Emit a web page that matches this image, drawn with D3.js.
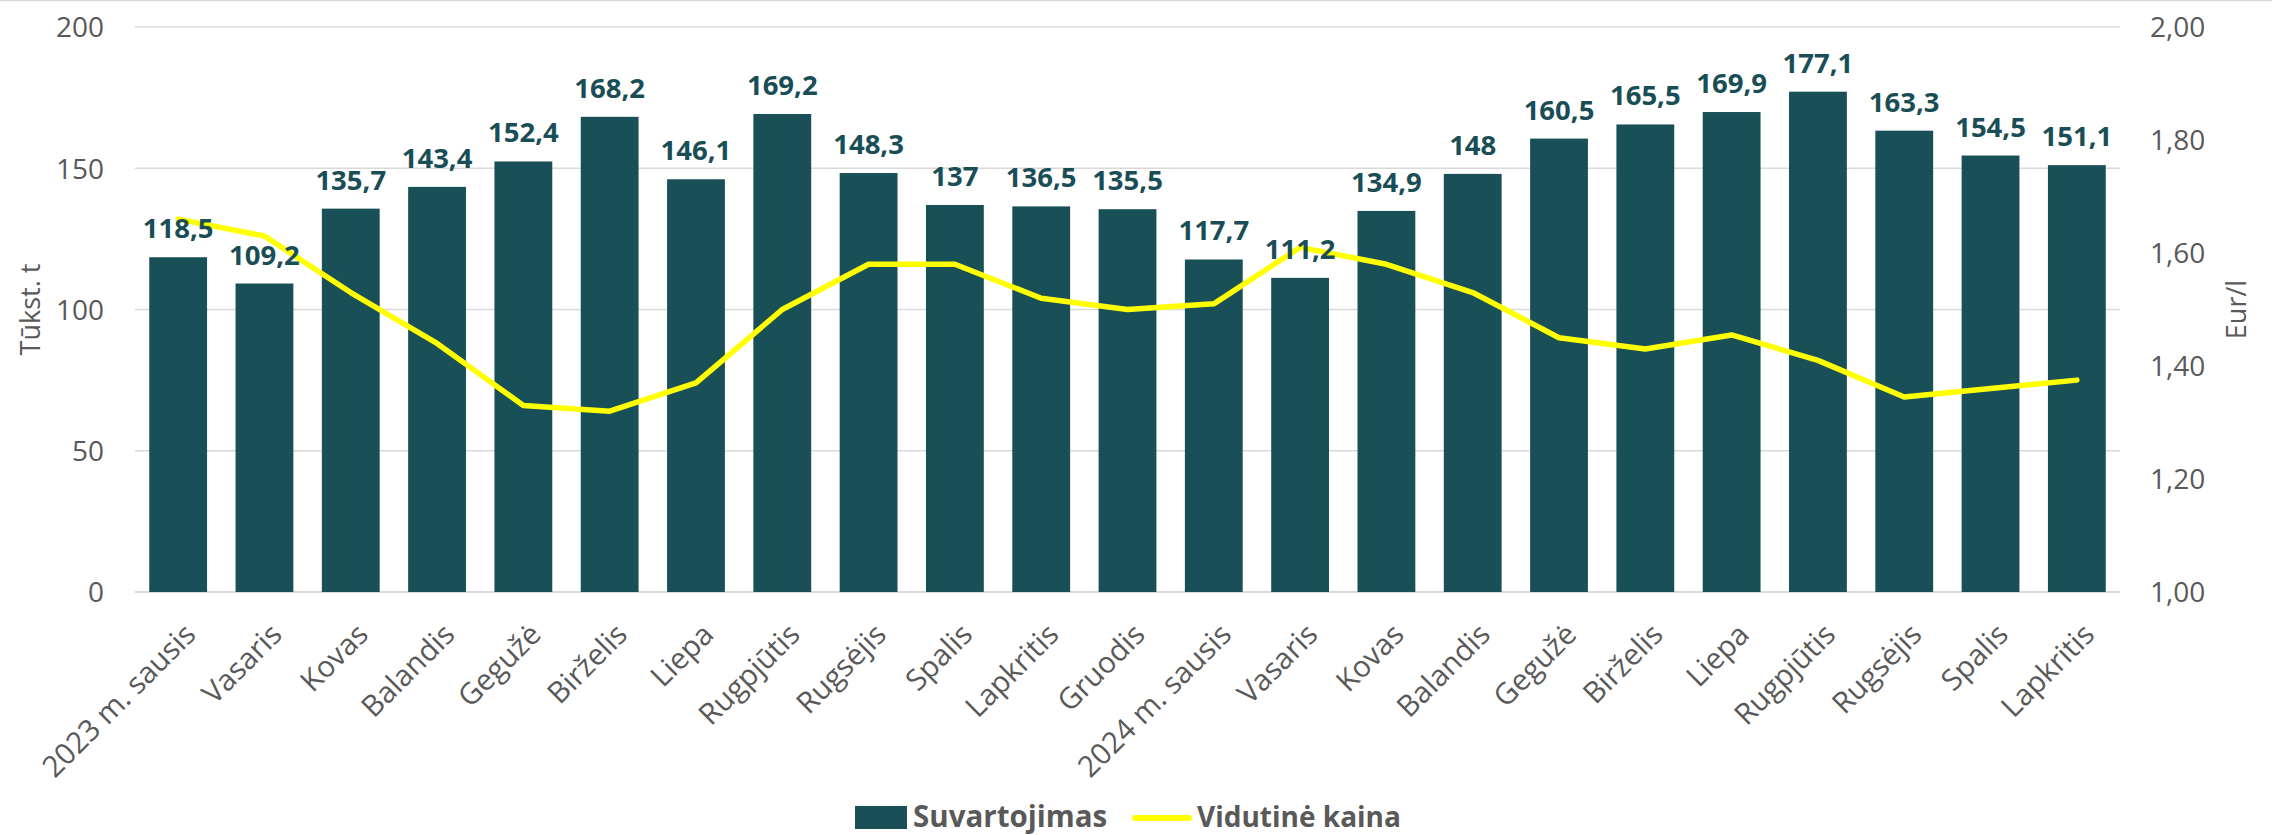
<!DOCTYPE html>
<html>
<head>
<meta charset="utf-8">
<script src="https://cdn.jsdelivr.net/npm/d3@7"></script>
<style>
  html, body { margin: 0; padding: 0; background: #fff; }
  svg { display: block; }
</style>
</head>
<body>
<svg id="chart" width="2272" height="835"></svg>
<script>
const categories = ["2023 m. sausis","Vasaris","Kovas","Balandis","Gegužė","Birželis","Liepa","Rugpjūtis","Rugsėjis","Spalis","Lapkritis","Gruodis","2024 m. sausis","Vasaris","Kovas","Balandis","Gegužė","Birželis","Liepa","Rugpjūtis","Rugsėjis","Spalis","Lapkritis"];
const consumption = [118.5,109.2,135.7,143.4,152.4,168.2,146.1,169.2,148.3,137,136.5,135.5,117.7,111.2,134.9,148,160.5,165.5,169.9,177.1,163.3,154.5,151.1];
const price = [1.66,1.63,1.53,1.44,1.33,1.32,1.37,1.50,1.58,1.58,1.52,1.50,1.51,1.61,1.58,1.53,1.45,1.43,1.455,1.41,1.345,1.36,1.375];
const leftTicks = [0,50,100,150,200];
const rightTicks = [1.0,1.2,1.4,1.6,1.8,2.0];
const seriesNames = ["Suvartojimas","Vidutinė kaina"];
const leftTitle = "Tūkst. t";
const rightTitle = "Eur/l";

const FONT = "'Open Sans', 'Noto Sans', sans-serif";
const BAR = "#194f57";
const LINE = "#ffff00";
const TXT = "#595959";

const svg = d3.select("#chart");
const M = {left: 135, right: 2120, top: 27, bottom: 592};

const x = d3.scaleBand().domain(d3.range(categories.length)).range([M.left, M.right]).paddingInner(0.33).paddingOuter(0.165);
const yL = d3.scaleLinear().domain([0, 200]).range([M.bottom, M.top]);
const yR = d3.scaleLinear().domain([1, 2]).range([M.bottom, M.top]);

// top border line
svg.append("line").attr("x1", 0).attr("x2", 2272).attr("y1", 0.5).attr("y2", 0.5).attr("stroke", "#d9d9d9").attr("stroke-width", 1.5);

// gridlines
svg.append("g").selectAll("line").data(leftTicks).join("line")
  .attr("x1", M.left).attr("x2", M.right)
  .attr("y1", d => yL(d)).attr("y2", d => yL(d))
  .attr("stroke", "#d9d9d9").attr("stroke-width", d => d === 0 ? 2 : 1.5);

// left axis labels
const axL = d3.axisLeft(yL).tickValues(leftTicks).tickSize(0).tickPadding(0).tickFormat(d => String(d));
const gL = svg.append("g").attr("transform", `translate(104,0)`).call(axL);
gL.select(".domain").remove();
gL.selectAll("text").attr("font-family", FONT).attr("font-size", 28).attr("fill", TXT).attr("dy", "0.35em");

// right axis labels
const fmt = d => d.toFixed(2).replace(".", ",");
const axR = d3.axisRight(yR).tickValues(rightTicks).tickSize(0).tickPadding(0).tickFormat(fmt);
const gR = svg.append("g").attr("transform", `translate(2150,0)`).call(axR);
gR.select(".domain").remove();
gR.selectAll("text").attr("font-family", FONT).attr("font-size", 28).attr("fill", TXT).attr("dy", "0.35em");

// bars
svg.append("g").selectAll("rect").data(consumption).join("rect")
  .attr("x", (d, i) => x(i)).attr("width", x.bandwidth())
  .attr("y", d => yL(d)).attr("height", d => yL(0) - yL(d))
  .attr("fill", BAR);

// line
const line = d3.line().x((d, i) => x(i) + x.bandwidth() / 2).y(d => yR(d));
svg.append("path").datum(price).attr("d", line)
  .attr("fill", "none").attr("stroke", LINE).attr("stroke-width", 5.5)
  .attr("stroke-linejoin", "round").attr("stroke-linecap", "round");

// data labels
svg.append("g").selectAll("text").data(consumption).join("text")
  .attr("x", (d, i) => x(i) + x.bandwidth() / 2)
  .attr("y", d => yL(d) - 19)
  .attr("text-anchor", "middle")
  .attr("font-family", FONT).attr("font-size", 27.5).attr("font-weight", 700)
  .attr("fill", "#1a4e56")
  .text(d => String(d).replace(".", ","));

// x labels
svg.append("g").selectAll("text").data(categories).join("text")
  .attr("transform", (d, i) => `translate(${x(i) + x.bandwidth() / 2 + 12},629) rotate(-45)`)
  .attr("text-anchor", "end").attr("dy", "0.35em")
  .attr("font-family", FONT).attr("font-size", 29.5).attr("fill", TXT)
  .text(d => d);

// axis titles
svg.append("text").attr("transform", `translate(40,${(M.top + M.bottom) / 2}) rotate(-90)`)
  .attr("text-anchor", "middle").attr("font-family", FONT).attr("font-size", 27).attr("fill", TXT)
  .text(leftTitle);
svg.append("text").attr("transform", `translate(2237,${(M.top + M.bottom) / 2}) rotate(-90)`)
  .attr("text-anchor", "middle").attr("dy", "0.35em").attr("font-family", FONT).attr("font-size", 27).attr("fill", TXT)
  .text(rightTitle);

// legend
const lg = svg.append("g");
lg.append("rect").attr("x", 855).attr("y", 806).attr("width", 52).attr("height", 23).attr("fill", BAR);
lg.append("text").attr("x", 913).attr("y", 817).attr("dy", "0.35em")
  .attr("font-family", FONT).attr("font-size", 29.5).attr("font-weight", 700).attr("fill", TXT).text(seriesNames[0]);
lg.append("line").attr("x1", 1135).attr("x2", 1189).attr("y1", 818).attr("y2", 818)
  .attr("stroke", LINE).attr("stroke-width", 6).attr("stroke-linecap", "round");
lg.append("text").attr("x", 1197).attr("y", 817).attr("dy", "0.35em")
  .attr("font-family", FONT).attr("font-size", 28).attr("font-weight", 700).attr("fill", TXT).text(seriesNames[1]);
</script>
</body>
</html>
